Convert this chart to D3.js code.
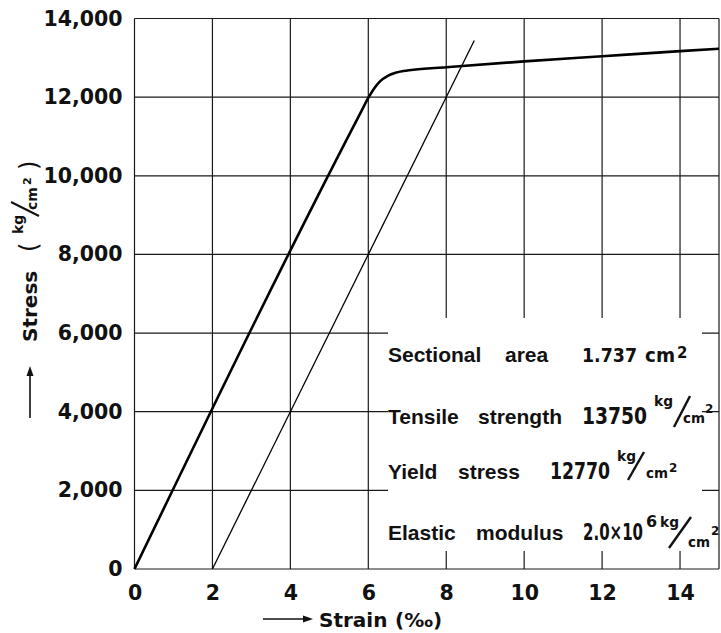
<!DOCTYPE html>
<html>
<head>
<meta charset="utf-8">
<script src="https://cdn.jsdelivr.net/npm/d3@7"></script>
<style>
  body { margin: 0; background: #fff; }
  svg text { font-family: "DejaVu Sans", sans-serif; font-weight: bold; fill: #111; }
</style>
</head>
<body>
<div id="chart"></div>
<script>
// stress-strain curve (strain in per mille, stress in kg/cm2)
var curveStrain = [0, 5.8, 6.0, 6.15, 6.3, 6.5, 6.7, 6.9, 7.1, 8, 10, 12, 14, 15];
var curveStress = [0, 11600, 11980, 12220, 12400, 12540, 12620, 12665, 12690, 12760, 12910, 13040, 13170, 13230];
// 0.2% offset line
var offsetStrain = [2, 8.72];
var offsetStress = [0, 13440];

var xTicks = [0, 2, 4, 6, 8, 10, 12, 14];
var yTicks = [0, 2000, 4000, 6000, 8000, 10000, 12000, 14000];

// notes block
var noteWords = [["Sectional", "area"], ["Tensile", "strength"], ["Yield", "stress"], ["Elastic", "modulus"]];
var noteValues = ["1.737", "13750", "12770", "2.0×10"];

var width = 721, height = 633;

var svg = d3.select("#chart").append("svg")
    .attr("width", width)
    .attr("height", height);

var x = d3.scaleLinear().domain([0, 15]).range([134.5, 719]);
var y = d3.scaleLinear().domain([0, 14000]).range([569, 18.5]);

var grid = svg.append("g")
    .attr("stroke", "#1a1a1a")
    .attr("stroke-width", 1.2);

// vertical grid
grid.selectAll("line.v")
    .data(xTicks.concat([15]))
    .enter().append("line")
    .attr("x1", function(d) { return x(d); })
    .attr("x2", function(d) { return x(d); })
    .attr("y1", y(0))
    .attr("y2", y(14000));

// horizontal grid
grid.selectAll("line.h")
    .data(yTicks)
    .enter().append("line")
    .attr("x1", x(0))
    .attr("x2", x(15))
    .attr("y1", function(d) { return y(d); })
    .attr("y2", function(d) { return y(d); });

// blank panel for the notes, grid stops at it
svg.append("rect")
    .attr("x", 388)
    .attr("y", 318)
    .attr("width", 314)
    .attr("height", 233)
    .attr("fill", "#fff");

// curves
var curveData = curveStrain.map(function(d, i) { return [d, curveStress[i]]; });
var offsetData = offsetStrain.map(function(d, i) { return [d, offsetStress[i]]; });

var line = d3.line()
    .x(function(d) { return x(d[0]); })
    .y(function(d) { return y(d[1]); })
    .curve(d3.curveMonotoneX);

svg.append("path")
    .datum(curveData)
    .attr("d", line)
    .attr("fill", "none")
    .attr("stroke", "#000")
    .attr("stroke-width", 2.6)
    .attr("stroke-linejoin", "round");

svg.append("path")
    .datum(offsetData)
    .attr("d", line)
    .attr("fill", "none")
    .attr("stroke", "#000")
    .attr("stroke-width", 1.3);

// axes labels
var yAxis = svg.append("g")
    .attr("transform", "translate(" + x(0) + ",0)")
    .call(d3.axisLeft(y).tickValues(yTicks).tickSize(0).tickPadding(12).tickFormat(d3.format(",")));
yAxis.select(".domain").remove();
yAxis.selectAll("text")
    .attr("font-size", "20.5px")
    .attr("fill", "#111");

var xAxis = svg.append("g")
    .attr("transform", "translate(0," + y(0) + ")")
    .call(d3.axisBottom(x).tickValues(xTicks).tickSize(0).tickPadding(16));
xAxis.select(".domain").remove();
xAxis.selectAll("text")
    .attr("font-size", "20.5px")
    .attr("fill", "#111");

// x title
svg.append("line")
    .attr("x1", 263).attr("x2", 306)
    .attr("y1", 619).attr("y2", 619)
    .attr("stroke", "#111").attr("stroke-width", 1.6);
svg.append("path")
    .attr("d", "M313,619 L303,615.5 L303,622.5 Z")
    .attr("fill", "#111");
svg.append("text")
    .attr("x", 319).attr("y", 627)
    .attr("font-size", "20px")
    .text("Strain");
svg.append("text")
    .attr("x", 395).attr("y", 627)
    .attr("font-size", "20px")
    .text("(‰)");

// y title
var yt = svg.append("g").attr("transform", "translate(37,342) rotate(-90)");
yt.append("text").attr("x", 0).attr("y", 0).attr("font-size", "20px").text("Stress");
yt.append("text").attr("x", 90).attr("y", 0).attr("font-size", "24px").style("font-weight", "normal").text("(");
yt.append("text").attr("x", 108).attr("y", -14).attr("font-size", "14px").text("kg");
yt.append("line").attr("x1", 126).attr("y1", 2).attr("x2", 140).attr("y2", -26)
    .attr("stroke", "#111").attr("stroke-width", 2);
yt.append("text").attr("x", 132).attr("y", 0).attr("font-size", "14px").text("cm");
yt.append("text").attr("x", 157).attr("y", -6).attr("font-size", "11px").text("2");
yt.append("text").attr("x", 172).attr("y", 0).attr("font-size", "24px").style("font-weight", "normal").text(")");

svg.append("line")
    .attr("x1", 30).attr("x2", 30)
    .attr("y1", 418).attr("y2", 374)
    .attr("stroke", "#111").attr("stroke-width", 1.6);
svg.append("path")
    .attr("d", "M30,366 L26.5,376 L33.5,376 Z")
    .attr("fill", "#111");

// notes
var rowBase = [362, 424, 479, 540];
var word2X = [505, 478, 458, 476];
var valueX = [582, 582, 550, 583];
var valueLen = [55, 65, 60, 60];

noteWords.forEach(function(w, i) {
  svg.append("text")
      .attr("x", 388).attr("y", rowBase[i])
      .style("font-family", "'Liberation Sans', Arial, sans-serif")
      .attr("font-size", "21px")
      .text(w[0]);
  svg.append("text")
      .attr("x", word2X[i]).attr("y", rowBase[i])
      .style("font-family", "'Liberation Sans', Arial, sans-serif")
      .attr("font-size", "21px")
      .text(w[1]);
  svg.append("text")
      .attr("x", valueX[i]).attr("y", rowBase[i])
      .attr("font-size", i === 0 ? "20px" : "23px")
      .attr("textLength", valueLen[i])
      .attr("lengthAdjust", "spacingAndGlyphs")
      .text(noteValues[i]);
});

// cm2 on first row
svg.append("text").attr("x", 645).attr("y", rowBase[0]).attr("font-size", "19px")
    .attr("textLength", 30).attr("lengthAdjust", "spacingAndGlyphs").text("cm");
svg.append("text").attr("x", 677).attr("y", rowBase[0] - 4).attr("font-size", "15px").text("2");

// exponent on last row
svg.append("text").attr("x", 646).attr("y", rowBase[3] - 13).attr("font-size", "16px").text("6");

// kg/cm2 units: [kg x, kg y, slash x1, y1, x2, y2, cm x, cm y, sup x, sup y]
var unitLayout = [
  [654, 406, 674, 427, 690, 396, 683, 423, 705, 413],
  [617, 461, 628, 480, 644, 452, 646, 478, 669, 472],
  [660, 527, 669, 548, 691, 517, 688, 547, 711, 535]
];
unitLayout.forEach(function(u) {
  svg.append("text").attr("x", u[0]).attr("y", u[1]).attr("font-size", "14px")
      .attr("textLength", 19).attr("lengthAdjust", "spacingAndGlyphs").text("kg");
  svg.append("line")
      .attr("x1", u[2]).attr("y1", u[3])
      .attr("x2", u[4]).attr("y2", u[5])
      .attr("stroke", "#111").attr("stroke-width", 2.4);
  svg.append("text").attr("x", u[6]).attr("y", u[7]).attr("font-size", "14px")
      .attr("textLength", 22).attr("lengthAdjust", "spacingAndGlyphs").text("cm");
  svg.append("text").attr("x", u[8]).attr("y", u[9]).attr("font-size", "12px").text("2");
});
</script>
</body>
</html>
